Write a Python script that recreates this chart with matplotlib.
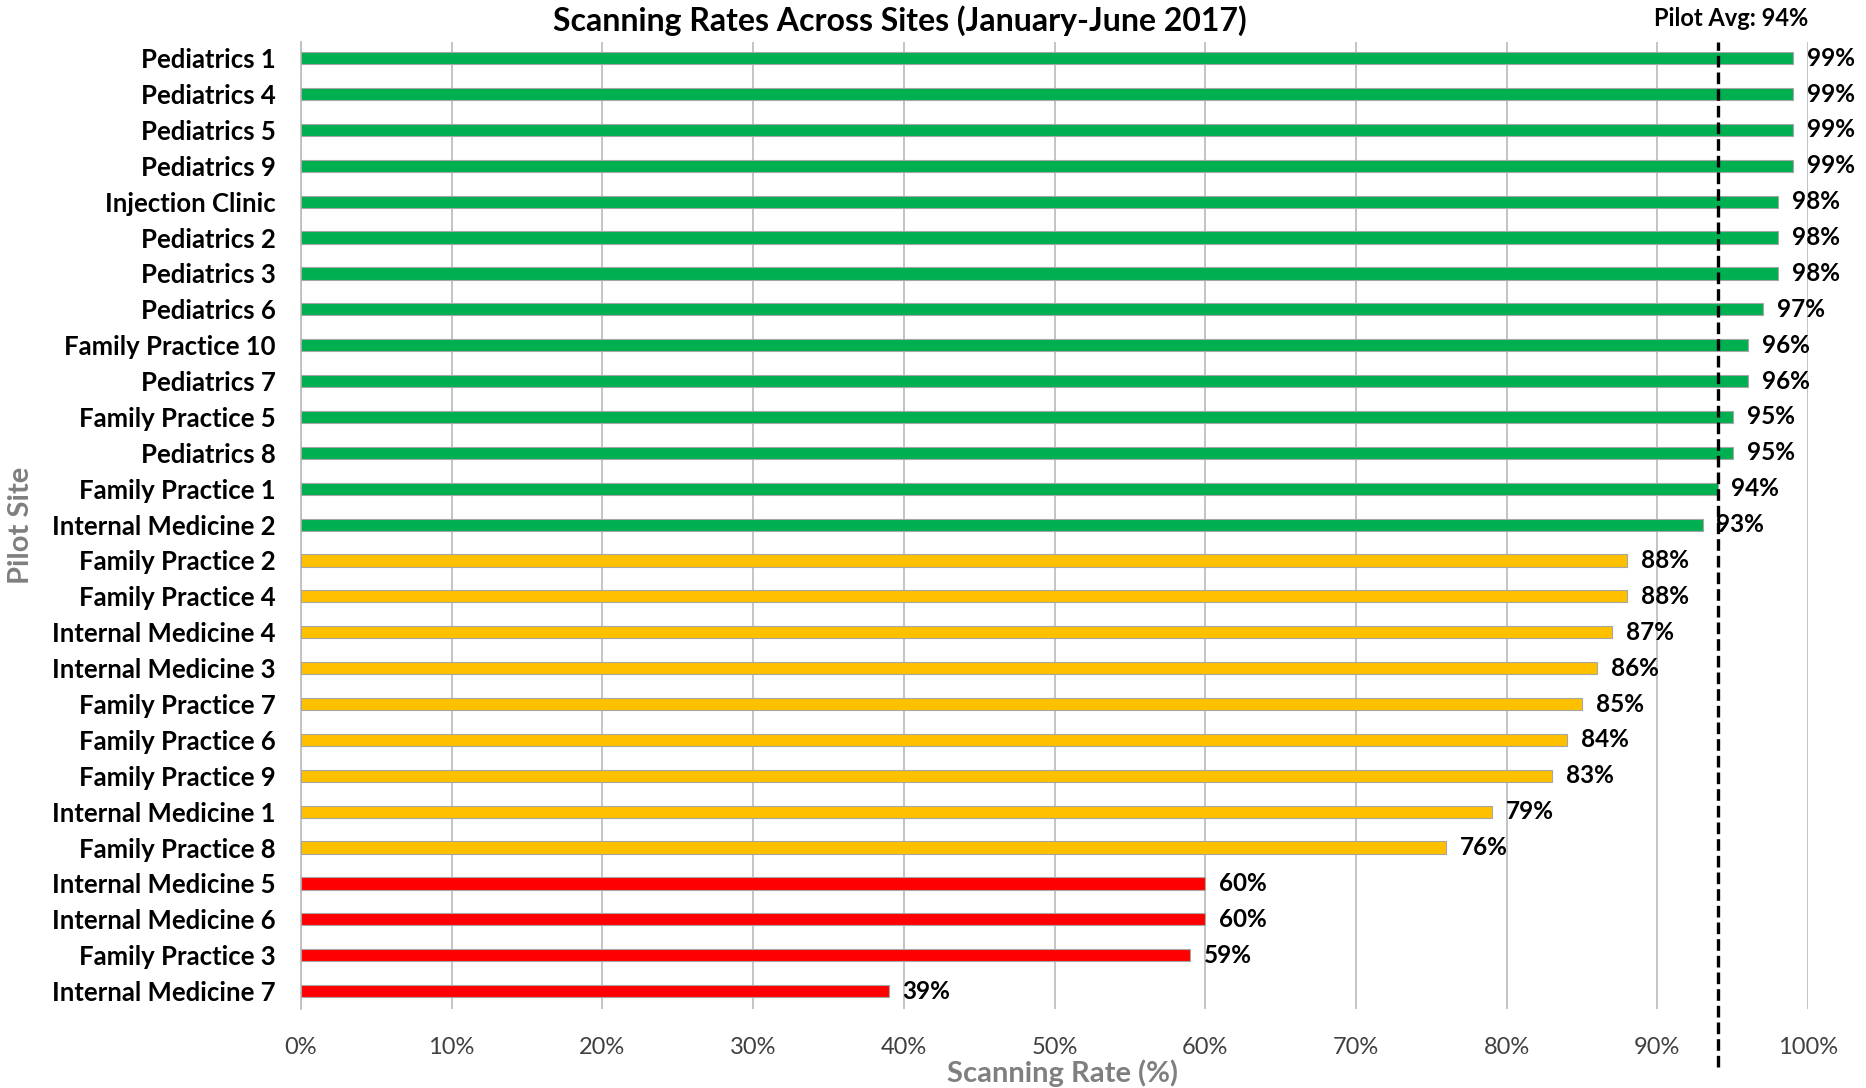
import matplotlib.pyplot as plt
from matplotlib.ticker import PercentFormatter

plt.rcParams['font.family'] = ['Lato', 'DejaVu Sans']

# sites, top to bottom as in the chart
sites = [
    'Pediatrics 1', 'Pediatrics 4', 'Pediatrics 5', 'Pediatrics 9',
    'Injection Clinic', 'Pediatrics 2', 'Pediatrics 3', 'Pediatrics 6',
    'Family Practice 10', 'Pediatrics 7', 'Family Practice 5', 'Pediatrics 8',
    'Family Practice 1', 'Internal Medicine 2', 'Family Practice 2',
    'Family Practice 4', 'Internal Medicine 4', 'Internal Medicine 3',
    'Family Practice 7', 'Family Practice 6', 'Family Practice 9',
    'Internal Medicine 1', 'Family Practice 8', 'Internal Medicine 5',
    'Internal Medicine 6', 'Family Practice 3', 'Internal Medicine 7'
]

# scanning rate (%)
rates = [99, 99, 99, 99, 98, 98, 98, 97, 96, 96, 95, 95, 94, 93,
         88, 88, 87, 86, 85, 84, 83, 79, 76, 60, 60, 59, 39]

pilot_avg = 94

# colour band for each site
def band(r):
    if r >= 90:
        return '#00B050'
    if r >= 70:
        return '#FFC000'
    return '#FF0000'

colors = [band(r) for r in rates]

fig = plt.figure(figsize=(18.66, 10.88), dpi=100)
ax = fig.add_axes([301 / 1866, 1 - 1009 / 1088, (1808 - 301) / 1866, (1009 - 42) / 1088])

y = list(range(len(sites)))
ax.barh(y, rates, height=0.34, color=colors, edgecolor='#A6A6A6', linewidth=0.8, zorder=3)

for yi, r in zip(y, rates):
    ax.annotate(f'{r}%', (r, yi), xytext=(10, 0), textcoords='offset points',
                va='center', ha='left', fontsize=17.5, fontweight='bold', color='black')

ax.set_ylim(len(sites) - 0.5, -0.45)
ax.set_xlim(0, 100)
ax.set_yticks(y)
ax.set_yticklabels(sites, fontsize=18.5, fontweight='bold')
ax.set_xticks(range(0, 101, 10))
ax.xaxis.set_major_formatter(PercentFormatter(decimals=0))
ax.tick_params(axis='x', labelsize=17, labelcolor='#404040', length=0, pad=20)
ax.tick_params(axis='y', length=0, pad=18)

ax.grid(axis='x', color='#BFBFBF', linewidth=1.3, zorder=0)
for s in ['top', 'right', 'bottom']:
    ax.spines[s].set_visible(False)
ax.spines['left'].set_color('#BFBFBF')
ax.spines['left'].set_linewidth(1.3)

# pilot average line
ax.axvline(pilot_avg, ymin=-0.06, ymax=1.0, color='black', linewidth=2.4,
           linestyle=(0, (3.5, 1.5)), clip_on=False, zorder=4)
ax.annotate(f'Pilot Avg: {pilot_avg}%', (pilot_avg + 0.9, 1.012),
            xycoords=('data', 'axes fraction'), ha='center', va='bottom',
            fontsize=17, fontweight='bold', annotation_clip=False)

ax.set_xlabel('Scanning Rate (%)', fontsize=21, fontweight='bold', color='#7F7F7F')
ax.set_ylabel('Pilot Site', fontsize=21, fontweight='bold', color='#7F7F7F')
ax.xaxis.label.set_verticalalignment('center')
ax.yaxis.label.set_verticalalignment('center')
ax.xaxis.set_label_coords(0.505, -0.066)
ax.yaxis.set_label_coords(-0.186, 0.5)

fig.text(900 / 1866, 1 - 21 / 1088, 'Scanning Rates Across Sites (January-June 2017)',
         ha='center', va='center', fontsize=23, fontweight='bold')

fig.savefig('out.png', dpi=100)
